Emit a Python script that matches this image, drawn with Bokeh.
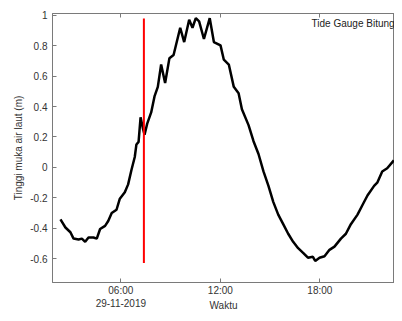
from bokeh.plotting import figure
from bokeh.models import Range1d, LinearAxis, FixedTicker, Label
from bokeh.embed import file_html
from bokeh.resources import INLINE

# Sea level (m) versus time of day (hours) on 29-11-2019
hours = [2.36, 2.66, 2.96, 3.15, 3.45, 3.65, 3.85, 4.05, 4.35, 4.55, 4.75, 5.05,
         5.24, 5.45, 5.74, 5.94, 6.24, 6.44, 6.64, 6.84, 6.94, 7.07, 7.19, 7.33,
         7.43, 7.59, 7.83, 8.03, 8.23, 8.43, 8.67, 8.93, 9.18, 9.58, 9.82, 10.12,
         10.32, 10.52, 10.72, 11.01, 11.36, 11.61, 12.01, 12.21, 12.51, 12.81,
         13.10, 13.30, 13.70, 14.00, 14.30, 14.60, 14.90, 15.19, 15.49, 15.79,
         16.09, 16.39, 16.69, 16.99, 17.28, 17.58, 17.72, 17.98, 18.28, 18.58,
         18.88, 19.27, 19.57, 19.87, 20.27, 20.57, 20.87, 21.27, 21.46, 21.76,
         22.06, 22.46]
level = [-0.343, -0.396, -0.427, -0.469, -0.475, -0.469, -0.490, -0.462, -0.462,
         -0.469, -0.406, -0.385, -0.353, -0.301, -0.279, -0.206, -0.164, -0.112,
         -0.017, 0.068, 0.151, 0.168, 0.330, 0.257, 0.215, 0.288, 0.362, 0.467,
         0.530, 0.677, 0.555, 0.719, 0.740, 0.919, 0.825, 0.972, 0.919, 0.982,
         0.961, 0.845, 0.982, 0.825, 0.803, 0.709, 0.677, 0.530, 0.488, 0.383,
         0.278, 0.172, 0.088, -0.027, -0.122, -0.227, -0.311, -0.374, -0.437,
         -0.490, -0.532, -0.563, -0.595, -0.589, -0.616, -0.595, -0.585, -0.543,
         -0.522, -0.469, -0.437, -0.374, -0.311, -0.248, -0.185, -0.122, -0.101,
         -0.027, -0.006, 0.046]

marker_hour = [7.39, 7.39]
marker_level = [-0.63, 0.98]

x_ticks = [6, 12, 18]
x_tick_labels = ["06:00\n29-11-2019", "12:00", "18:00"]
y_ticks = [-0.6, -0.4, -0.2, 0, 0.2, 0.4, 0.6, 0.8, 1]
y_tick_labels = ["-0.6", "-0.4", "-0.2", "0", "0.2", "0.4", "0.6", "0.8", "1"]

title_text = "Tide Gauge Bitung"
x_label = "Waktu"
y_label = "Tinggi muka air laut (m)"

FONT = "Liberation Sans"
SPINE = "#7a7a7a"
TXT = "#333333"

p = figure(width=394, height=313, output_backend="svg", toolbar_location=None,
           x_range=Range1d(1.88, 22.5), y_range=Range1d(-0.758, 1.013),
           min_border_left=52, min_border_right=0, min_border_top=13,
           min_border_bottom=0, background_fill_color="white",
           border_fill_color="white", outline_line_color=SPINE,
           x_axis_label=x_label, y_axis_label=y_label)
p.grid.visible = False


def style(ax, labels=True):
    ax.axis_line_color = SPINE
    ax.axis_line_width = 1
    ax.major_tick_line_color = SPINE
    ax.major_tick_line_width = 1
    ax.major_tick_in = 4
    ax.major_tick_out = 0
    ax.minor_tick_line_color = None
    ax.major_label_text_font = FONT
    ax.major_label_text_font_size = "10px" if labels else "0px"
    ax.major_label_text_color = TXT
    ax.axis_label_text_font = FONT
    ax.axis_label_text_font_size = "10px"
    ax.axis_label_text_font_style = "normal"
    ax.axis_label_text_color = TXT


bottom = p.xaxis[0]
bottom.ticker = FixedTicker(ticks=x_ticks)
bottom.major_label_overrides = dict(zip(x_ticks, x_tick_labels))
style(bottom)
bottom.major_label_standoff = 2
bottom.axis_label_standoff = -12

top = LinearAxis(ticker=FixedTicker(ticks=x_ticks),
                 major_label_overrides={t: "" for t in x_ticks})
style(top, labels=False)
top.major_label_standoff = 0
p.add_layout(top, "above")

left = p.yaxis[0]
left.ticker = FixedTicker(ticks=y_ticks)
left.major_label_overrides = dict(zip(y_ticks, y_tick_labels))
style(left)
left.major_label_standoff = 5
left.axis_label_standoff = 3

p.line(hours, level, line_color="black", line_width=2.5)
p.line(marker_hour, marker_level, line_color="#ff0000", line_width=2)

p.add_layout(Label(x=17.5, y=0.945, text=title_text, text_font=FONT,
                   text_font_size="10px", text_color="#222222",
                   text_baseline="middle"))

open("out.html", "w").write(file_html(p, INLINE))
